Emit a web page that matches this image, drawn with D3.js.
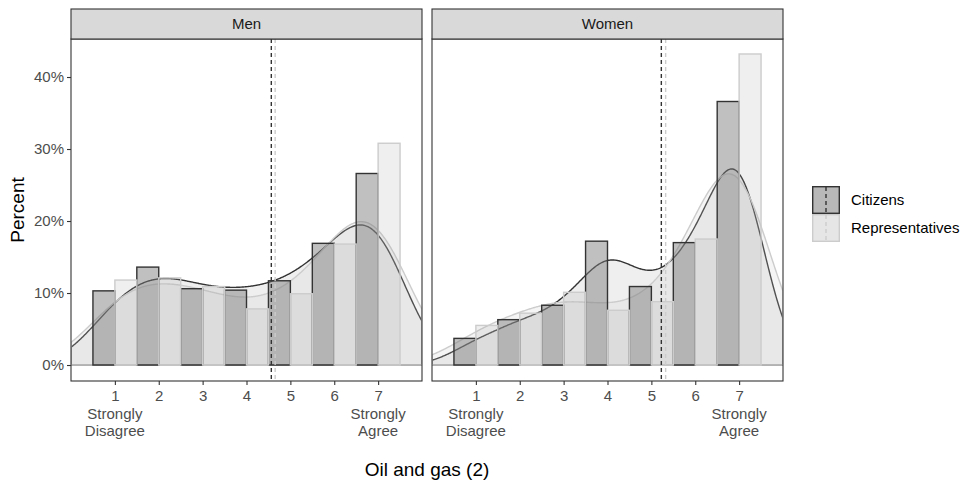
<!DOCTYPE html>
<html>
<head>
<meta charset="utf-8">
<script src="https://cdn.jsdelivr.net/npm/d3@7"></script>
<style>
body { margin: 0; background: #fff; }
text { font-family: "Liberation Sans", Arial, sans-serif; }
</style>
</head>
<body>
<svg id="chart" width="960" height="482"></svg>
<script>
/* global d3 */

// answer scale
var levels = [1, 2, 3, 4, 5, 6, 7];
var panels = ["Men", "Women"];
var groups = ["Citizens", "Representatives"];

// percent of respondents per answer
var menCitizens = [10.3, 13.6, 10.6, 10.4, 11.7, 16.9, 26.6];
var menReps = [11.8, 12.1, 10.9, 7.8, 9.9, 16.8, 30.8];
var womenCitizens = [3.7, 6.3, 8.3, 17.2, 10.9, 17.0, 36.6];
var womenReps = [5.5, 7.2, 10.1, 7.6, 8.8, 17.5, 43.2];

// kernel bandwidths of the density curves (citizens, representatives)
var menBandwidth = [0.75, 0.85];
var womenBandwidth = [0.62, 0.8];

var yTicks = [0, 10, 20, 30, 40];

var series = {
	Men: [menCitizens, menReps],
	Women: [womenCitizens, womenReps]
};
var bandwidths = { Men: menBandwidth, Women: womenBandwidth };

var style = {
	Citizens: { bar: "#7c7c7c", barOpacity: 0.48, stroke: "#333333", dens: "#333333", densOpacity: 0.08 },
	Representatives: { bar: "#a1a1a1", barOpacity: 0.17, stroke: "#cccccc", dens: "#cccccc", densOpacity: 0.2 }
};

var svg = d3.select("#chart");

var panelTop = 39, panelBottom = 381, stripTop = 9;
var panelX = { Men: [71, 422], Women: [432, 783] };

var y = d3.scaleLinear().domain([-2.22, 45.28]).range([panelBottom, panelTop]);

// gaussian kernel density of the answer distribution, in percent
function density(values, bw, xs) {
	return xs.map(function (x) {
		var s = 0;
		values.forEach(function (p, i) {
			var u = (x - levels[i]) / bw;
			s += p * Math.exp(-0.5 * u * u) / Math.sqrt(2 * Math.PI) / bw;
		});
		return [x, s];
	});
}

var grid = d3.range(0, 512).map(function (i) { return 8 * i / 511; });

panels.forEach(function (panel) {

	var x = d3.scaleLinear().domain([0, 8]).range(panelX[panel]);
	var g = svg.append("g");

	var clipId = "clip" + panel;
	g.append("clipPath").attr("id", clipId)
		.append("rect")
		.attr("x", x.range()[0]).attr("y", panelTop)
		.attr("width", x.range()[1] - x.range()[0]).attr("height", panelBottom - panelTop);

	var plot = g.append("g").attr("clip-path", "url(#" + clipId + ")");

	// density areas
	series[panel].forEach(function (values, gi) {
		var st = style[groups[gi]];
		var pts = density(values, bandwidths[panel][gi], grid);
		pts = [[0, 0]].concat(pts, [[8, 0]]);
		var line = d3.line().x(function (d) { return x(d[0]); }).y(function (d) { return y(d[1]); });
		plot.append("path")
			.attr("d", line(pts) + "Z")
			.attr("fill", st.dens)
			.attr("fill-opacity", st.densOpacity)
			.attr("stroke", st.stroke)
			.attr("stroke-width", 1.4);
	});

	// bars, citizens left of the tick and representatives right of it
	series[panel].forEach(function (values, gi) {
		var st = style[groups[gi]];
		plot.selectAll(null)
			.data(values)
			.enter().append("rect")
			.attr("x", function (d, i) { return x(levels[i] - 0.5 + gi * 0.5); })
			.attr("width", x(0.5) - x(0))
			.attr("y", function (d) { return y(d); })
			.attr("height", function (d) { return y(0) - y(d); })
			.attr("fill", st.bar)
			.attr("fill-opacity", st.barOpacity)
			.attr("stroke", st.stroke)
			.attr("stroke-width", 1.4);
	});

	// mean lines
	series[panel].forEach(function (values, gi) {
		var st = style[groups[gi]];
		var mean = d3.sum(values, function (p, i) { return p * levels[i]; }) / d3.sum(values);
		plot.append("line")
			.attr("x1", x(mean)).attr("x2", x(mean))
			.attr("y1", panelTop).attr("y2", panelBottom)
			.attr("stroke", st.stroke)
			.attr("stroke-width", 1.4)
			.attr("stroke-dasharray", "4,3");
	});

	// panel border
	g.append("rect")
		.attr("x", x.range()[0]).attr("y", panelTop)
		.attr("width", x.range()[1] - x.range()[0]).attr("height", panelBottom - panelTop)
		.attr("fill", "none").attr("stroke", "#333333").attr("stroke-width", 1.1);

	// strip
	g.append("rect")
		.attr("x", x.range()[0]).attr("y", stripTop)
		.attr("width", x.range()[1] - x.range()[0]).attr("height", panelTop - stripTop)
		.attr("fill", "#d9d9d9").attr("stroke", "#333333").attr("stroke-width", 1.1);
	g.append("text")
		.attr("x", (x.range()[0] + x.range()[1]) / 2)
		.attr("y", (stripTop + panelTop) / 2 + 5)
		.attr("text-anchor", "middle")
		.attr("font-size", 15)
		.attr("fill", "#1a1a1a")
		.text(panel);

	// x axis
	var xAxis = g.append("g")
		.attr("transform", "translate(0," + panelBottom + ")")
		.call(d3.axisBottom(x).tickValues(levels).tickSize(4).tickPadding(5));
	xAxis.select(".domain").remove();
	xAxis.selectAll(".tick line").attr("stroke", "#333333").attr("stroke-width", 1.1);
	xAxis.selectAll(".tick text")
		.attr("font-size", 15)
		.attr("fill", "#4d4d4d")
		.attr("font-family", "Liberation Sans, Arial, sans-serif");

	[[1, ["Strongly", "Disagree"]], [7, ["Strongly", "Agree"]]].forEach(function (lab) {
		var t = g.append("text")
			.attr("x", x(lab[0]))
			.attr("y", 419)
			.attr("text-anchor", "middle")
			.attr("font-size", 15)
			.attr("fill", "#4d4d4d");
		lab[1].forEach(function (s, i) {
			t.append("tspan").attr("x", x(lab[0])).attr("dy", i === 0 ? 0 : 17).text(s);
		});
	});

	// y axis only on the first panel
	if (panel === "Men") {
		var yAxis = g.append("g")
			.attr("transform", "translate(" + x.range()[0] + ",0)")
			.call(d3.axisLeft(y).tickValues(yTicks).tickSize(4).tickPadding(3)
				.tickFormat(function (d) { return d + "%"; }));
		yAxis.select(".domain").remove();
		yAxis.selectAll(".tick line").attr("stroke", "#333333").attr("stroke-width", 1.1);
		yAxis.selectAll(".tick text")
			.attr("font-size", 15)
			.attr("fill", "#4d4d4d")
			.attr("font-family", "Liberation Sans, Arial, sans-serif");
	}
});

// axis titles
svg.append("text")
	.attr("x", (panelX.Men[0] + panelX.Women[1]) / 2)
	.attr("y", 476)
	.attr("text-anchor", "middle")
	.attr("font-size", 19)
	.attr("fill", "#000")
	.text("Oil and gas (2)");

svg.append("text")
	.attr("transform", "translate(24," + (panelTop + panelBottom) / 2 + ") rotate(-90)")
	.attr("text-anchor", "middle")
	.attr("font-size", 19)
	.attr("fill", "#000")
	.text("Percent");

// legend
var legend = svg.append("g").attr("transform", "translate(812,186)");
groups.forEach(function (name, i) {
	var st = style[name];
	var k = legend.append("g").attr("transform", "translate(0," + i * 28 + ")");
	k.append("rect").attr("width", 28).attr("height", 28)
		.attr("fill", st.dens).attr("fill-opacity", st.densOpacity);
	k.append("rect").attr("x", 0.7).attr("y", 0.7).attr("width", 26.6).attr("height", 26.6)
		.attr("fill", st.bar).attr("fill-opacity", st.barOpacity)
		.attr("stroke", st.stroke).attr("stroke-width", 1.4);
	k.append("line").attr("x1", 14).attr("x2", 14).attr("y1", 1).attr("y2", 27)
		.attr("stroke", st.stroke).attr("stroke-width", 1.4)
		.attr("stroke-dasharray", "4,3");
	k.append("text")
		.attr("x", 39).attr("y", 14 + 5)
		.attr("font-size", 15)
		.attr("fill", "#000")
		.text(name);
});
</script>
</body>
</html>
